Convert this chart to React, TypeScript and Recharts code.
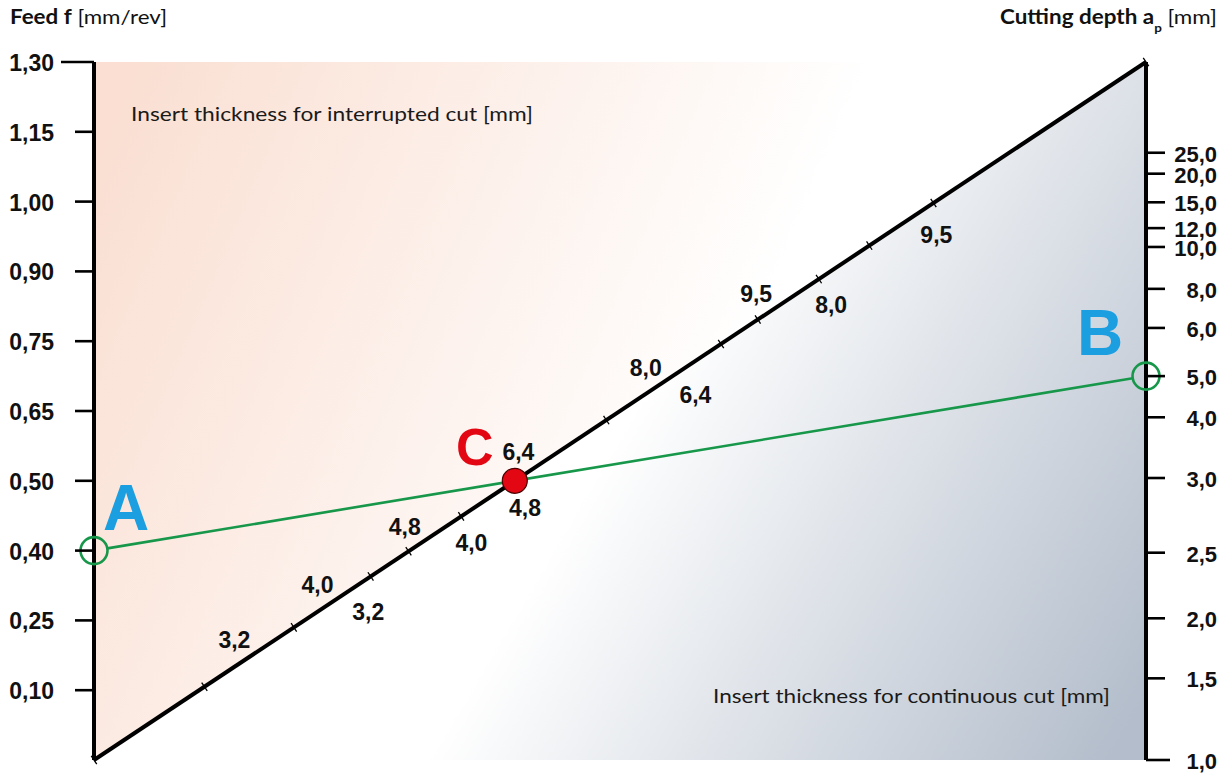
import React from 'react';
import { ComposedChart, XAxis, YAxis, ReferenceArea, ReferenceLine, Scatter } from 'recharts';

// ---- data ----
// Left scale: feed f [mm/rev] (evenly spaced positions 1..10)
const feedTickPos = [1, 2, 3, 4, 5, 6, 7, 8, 9, 10];
const feedTickLabels = ['0,10', '0,25', '0,40', '0,50', '0,65', '0,75', '0,90', '1,00', '1,15', '1,30'];
// Right scale: cutting depth ap [mm] (positions on the same 0..10 height scale)
const depthTickPos = [0, 1.17, 2.03, 2.97, 4.04, 4.91, 5.5, 6.19, 6.75, 7.35, 7.62, 7.99, 8.4, 8.7];
const depthTickLabels = ['1,0', '1,5', '2,0', '2,5', '3,0', '4,0', '5,0', '6,0', '8,0', '10,0', '12,0', '15,0', '20,0', '25,0'];
// Diagonal scale: insert thickness (position along the diagonal 0..1)
const thicknessTickPos = [0, 0.105, 0.19, 0.263, 0.299, 0.349, 0.4, 0.487, 0.596, 0.631, 0.689, 0.737, 0.798, 1];
const interruptedLabels = ['3,2', '4,0', '4,8', '6,4', '8,0', '9,5'];
const interruptedPos = [0.145, 0.224, 0.307, 0.415, 0.536, 0.641];
const continuousLabels = ['3,2', '4,0', '4,8', '6,4', '8,0', '9,5'];
const continuousPos = [0.246, 0.344, 0.395, 0.557, 0.686, 0.786];
// Example reading: A = feed 0,40 ; B = depth 5,0
const pointAFeedPos = 3;
const pointBDepthPos = 5.5;

// ---- layout / style ----
const W = 1228;
const H = 773;
const PLOT_LEFT = 94;
const PLOT_RIGHT = 1146;
const PLOT_TOP = 62;
const PLOT_BOTTOM = 760;
const AXIS_W = 80;
const FONT_NUM = '"Liberation Sans", Arial, Helvetica, sans-serif';
const FONT_TXT = 'Lato, "Open Sans", sans-serif';
const GREEN = '#17974a';
const BLUE = '#1b9fe0';
const RED = '#e30613';

const PW = PLOT_RIGHT - PLOT_LEFT;
const PH = PLOT_BOTTOM - PLOT_TOP;
const DL = Math.hypot(PW, PH);
// unit normal of the diagonal, pointing up-left (pixel space)
const NX = -PH / DL;
const NY = -PW / DL;

const diagPoint = (t: number) => ({ x: t, y: t * 10 });
const tickData = thicknessTickPos.map((t) => diagPoint(t));
const interruptedData = interruptedPos.map((t, i) => ({ ...diagPoint(t), label: interruptedLabels[i] }));
const continuousData = continuousPos.map((t, i) => ({ ...diagPoint(t), label: continuousLabels[i] }));
const cX = pointAFeedPos / (10 - (pointBDepthPos - pointAFeedPos));
const pointA = [{ x: 0, y: pointAFeedPos }];
const pointB = [{ x: 1, y: pointBDepthPos }];
const pointC = [{ x: cX, y: cX * 10 }];

const numText = {
  fontFamily: FONT_NUM,
  fontWeight: 700,
  fontSize: 23,
  fill: '#111',
} as const;

const LeftTick = (props: any) => {
  const { x, y, payload } = props;
  const i = feedTickPos.indexOf(payload.value);
  const isTop = i === feedTickPos.length - 1;
  return (
    <g>
      <line x1={x - (isTop ? 33 : 19)} x2={x} y1={y} y2={y} stroke="#000" strokeWidth={2.6} />
      <text x={x - 40} y={y + 9} textAnchor="end" {...numText}>
        {feedTickLabels[i]}
      </text>
    </g>
  );
};

const RightTick = (props: any) => {
  const { x, y, payload } = props;
  const i = depthTickPos.indexOf(payload.value);
  const len = i === 0 ? 24 : 19;
  return (
    <g>
      <line x1={x} x2={x + len} y1={y} y2={y} stroke="#000" strokeWidth={2.6} />
      <text x={x + 71} y={y + 9} textAnchor="end" {...numText} fontSize={22}>
        {depthTickLabels[i]}
      </text>
    </g>
  );
};

const tickShape = (p: any) => (
  <line
    x1={p.cx - NX * 5}
    y1={p.cy - NY * 5}
    x2={p.cx + NX * 5}
    y2={p.cy + NY * 5}
    stroke="#000"
    strokeWidth={1.3}
  />
);

const makeLabelShape = (d: number) => (p: any) => (
  <text
    x={p.cx + NX * d}
    y={p.cy + NY * d + 8}
    textAnchor="middle"
    {...numText}
  >
    {p.payload.label}
  </text>
);

const greenShape = (p: any) => {
  const { x1, y1, x2, y2 } = p;
  const dx = x2 - x1;
  const dy = y2 - y1;
  const L = Math.hypot(dx, dy) || 1;
  const ux = dx / L;
  const uy = dy / L;
  const r = 13.5;
  return (
    <line
      x1={x1 + ux * r}
      y1={y1 + uy * r}
      x2={x2 - ux * r}
      y2={y2 - uy * r}
      stroke={GREEN}
      strokeWidth={2.6}
    />
  );
};

const bgShape = (p: any) => {
  const { x, y, width, height } = p;
  const upper = `${x},${y} ${x + width},${y} ${x},${y + height}`;
  const lower = `${x},${y + height} ${x + width},${y} ${x + width},${y + height}`;
  return (
    <g>
      <polygon points={upper} fill="url(#gradUpper)" />
      <polygon points={lower} fill="url(#gradLower)" />
    </g>
  );
};

const letterStyle = {
  fontFamily: FONT_NUM,
  fontWeight: 700,
  textAnchor: 'middle',
} as const;

const shapeA = (p: any) => (
  <g>
    <circle cx={p.cx} cy={p.cy} r={13.5} fill="none" stroke={GREEN} strokeWidth={2.6} />
    <text x={p.cx + 32} y={p.cy - 21} fontSize={64} fill={BLUE} {...letterStyle}>A</text>
  </g>
);
const shapeB = (p: any) => (
  <g>
    <circle cx={p.cx} cy={p.cy} r={13.5} fill="none" stroke={GREEN} strokeWidth={2.6} />
    <text x={p.cx - 46} y={p.cy - 21} fontSize={64} fill={BLUE} {...letterStyle}>B</text>
  </g>
);
const shapeC = (p: any) => (
  <g>
    <circle cx={p.cx} cy={p.cy} r={12.5} fill={RED} stroke="#4a0000" strokeWidth={1.2} />
    <text x={p.cx - 40} y={p.cy - 16} fontSize={52} fill={RED} {...letterStyle}>C</text>
  </g>
);

export default function App() {
  return (
    <div style={{ position: 'absolute', left: 0, top: 0, width: W, height: H, background: '#fff' }}>
      <ComposedChart
        width={W}
        height={H}
        margin={{ top: PLOT_TOP, bottom: H - PLOT_BOTTOM, left: PLOT_LEFT - AXIS_W, right: W - PLOT_RIGHT - AXIS_W }}
      >
        <defs>
          <linearGradient id="gradUpper" gradientUnits="userSpaceOnUse" x1={PLOT_LEFT} y1={150} x2={720} y2={420}>
            <stop offset="0" stopColor="#fadfd2" />
            <stop offset="1" stopColor="#ffffff" />
          </linearGradient>
          <linearGradient id="gradLower" gradientUnits="userSpaceOnUse" x1={640} y1={400} x2={PLOT_RIGHT} y2={700}>
            <stop offset="0" stopColor="#ffffff" />
            <stop offset="1" stopColor="#b3bdcb" />
          </linearGradient>
        </defs>
        <XAxis type="number" dataKey="x" domain={[0, 1]} hide />
        <YAxis
          yAxisId="left"
          type="number"
          domain={[0, 10]}
          ticks={feedTickPos}
          interval={0}
          width={AXIS_W}
          axisLine={{ stroke: '#000', strokeWidth: 4 }}
          tickLine={false}
          tickSize={0}
          tickMargin={0}
          tick={(p: any) => <LeftTick {...p} />}
        />
        <YAxis
          yAxisId="right"
          orientation="right"
          type="number"
          domain={[0, 10]}
          ticks={depthTickPos}
          interval={0}
          width={AXIS_W}
          allowDataOverflow
          axisLine={{ stroke: '#000', strokeWidth: 4 }}
          tickLine={false}
          tickSize={0}
          tickMargin={0}
          tick={(p: any) => <RightTick {...p} />}
        />
        <ReferenceArea
          yAxisId="left"
          x1={0}
          x2={1}
          y1={0}
          y2={10}
          shape={bgShape}
        />
        <ReferenceLine
          yAxisId="left"
          segment={[{ x: 0, y: 0 }, { x: 1, y: 10 }]}
          stroke="#000"
          strokeWidth={4}
        />
        <ReferenceLine
          yAxisId="left"
          segment={[{ x: 0, y: pointAFeedPos }, { x: 1, y: pointBDepthPos }]}
          shape={greenShape}
        />
        <Scatter yAxisId="left" data={tickData} dataKey="y" shape={tickShape} isAnimationActive={false} />
        <Scatter yAxisId="left" data={interruptedData} dataKey="y" shape={makeLabelShape(22)} isAnimationActive={false} />
        <Scatter yAxisId="left" data={continuousData} dataKey="y" shape={makeLabelShape(-28)} isAnimationActive={false} />
        <Scatter yAxisId="left" data={pointA} dataKey="y" shape={shapeA} isAnimationActive={false} />
        <Scatter yAxisId="left" data={pointB} dataKey="y" shape={shapeB} isAnimationActive={false} />
        <Scatter yAxisId="left" data={pointC} dataKey="y" shape={shapeC} isAnimationActive={false} />
      </ComposedChart>
      <svg
        width={W}
        height={H}
        style={{ position: 'absolute', left: 0, top: 0, pointerEvents: 'none' }}
      >
        <text x={10} y={24} fontFamily={FONT_TXT} fontSize={20} fill="#111" textLength={157} lengthAdjust="spacingAndGlyphs">
          <tspan fontWeight={700}>Feed f</tspan> [mm/rev]
        </text>
        <text x={1000} y={24} fontFamily={FONT_TXT} fontSize={20} fill="#111" textLength={217} lengthAdjust="spacingAndGlyphs">
          <tspan fontWeight={700}>Cutting depth a</tspan>
          <tspan fontWeight={700} fontSize={12} dy={8}>p</tspan>
          <tspan dy={-8}> [mm]</tspan>
        </text>
        <text x={131} y={121} fontFamily={FONT_TXT} fontSize={19} fill="#1a1a1a" textLength={402} lengthAdjust="spacingAndGlyphs">
          Insert thickness for interrupted cut [mm]
        </text>
        <text x={713} y={703} fontFamily={FONT_TXT} fontSize={19} fill="#1a1a1a" textLength={397} lengthAdjust="spacingAndGlyphs">
          Insert thickness for continuous cut [mm]
        </text>
      </svg>
    </div>
  );
}
